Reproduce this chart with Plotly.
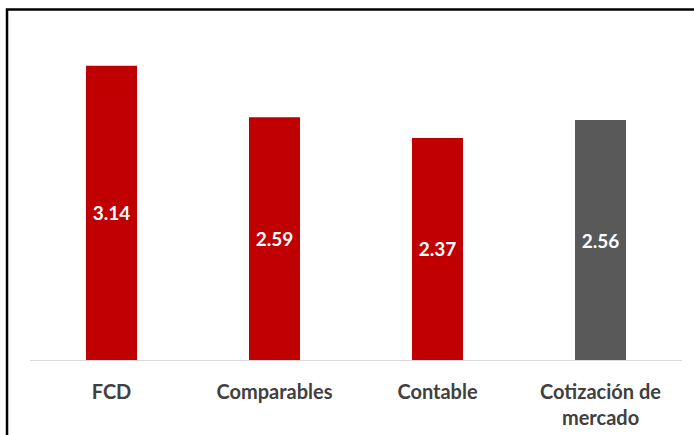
import plotly.graph_objects as go

categories = ["FCD", "Comparables", "Contable", "Cotización de<br>mercado"]
values = [3.14, 2.59, 2.37, 2.56]
colors = ["#C00000", "#C00000", "#C00000", "#595959"]
labels = ["3.14", "2.59", "2.37", "2.56"]

fig = go.Figure(go.Bar(
    x=categories, y=values,
    marker=dict(color=colors, line=dict(width=0)),
    text=labels, textposition="inside", insidetextanchor="middle",
    textfont=dict(family="Lato", size=19, color="white", weight="bold"),
    textangle=0,
))

W, H = 694, 435
ml, mr, mt, mb = 30, 11.5, 32.4, 75
pw = W - ml - mr
ph = H - mt - mb

def px_x(p):
    return (p - ml) / pw

def px_y(p):
    return (H - mb - p) / ph

fig.add_shape(type="rect", xref="paper", yref="paper",
              x0=px_x(7), x1=px_x(720), y0=px_y(470), y1=px_y(10),
              line=dict(color="black", width=2.5), fillcolor="rgba(0,0,0,0)", layer="above")

fig.update_layout(
    width=W, height=H,
    margin=dict(l=ml, r=mr, t=mt, b=mb, pad=0, autoexpand=False),
    paper_bgcolor="white", plot_bgcolor="white",
    bargap=0.687, showlegend=False,
    xaxis=dict(showline=True, linecolor="#D9D9D9", linewidth=1, ticks="",
               tickfont=dict(family="Lato", size=20, color="#404040", weight="bold"),
               ticklabelstandoff=14, automargin=False,
               showgrid=False, zeroline=False, fixedrange=True),
    yaxis=dict(range=[0, 3.5], visible=False, showgrid=False, zeroline=False,
               automargin=False),
    uniformtext=dict(mode=False),
)

fig.write_html("out.html")
